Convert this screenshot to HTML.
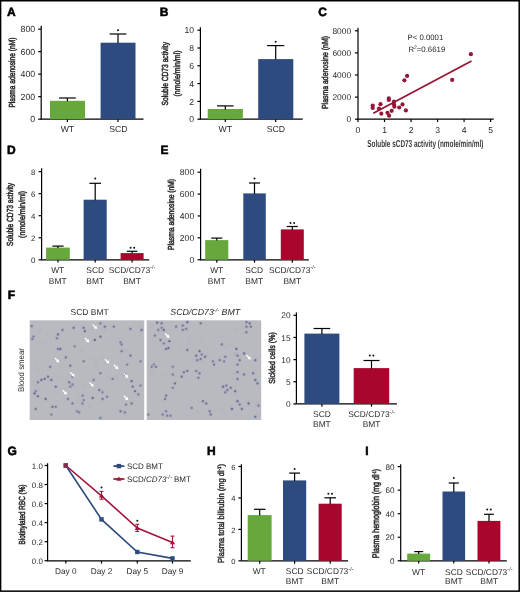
<!DOCTYPE html><html><head><meta charset="utf-8"><style>html,body{margin:0;padding:0;background:#fff;}#wrap{position:relative;width:520px;height:592px;overflow:hidden;}svg{display:block;will-change:transform;}svg.main{filter:blur(0.3px);}svg.ov{position:absolute;left:0;top:0;}</style></head><body><div id="wrap"><svg class="main" width="520" height="592" viewBox="0 0 520 592" font-family="Liberation Sans, sans-serif" text-rendering="geometricPrecision">
<rect x="0" y="0" width="520" height="592" fill="#fff"/>
<defs><filter id="sblur" x="-5%" y="-5%" width="110%" height="110%"><feGaussianBlur stdDeviation="0.6"/></filter><clipPath id="clip29"><rect x="29.7" y="320.3" width="114.5" height="99.7"/></clipPath><clipPath id="clip146"><rect x="146.7" y="320.3" width="114.5" height="99.7"/></clipPath></defs>
<text x="7" y="15.5" font-size="12" font-weight="bold" fill="#000" stroke="#000" stroke-width="0.55">A</text>
<line x1="41.2" y1="25.8" x2="41.2" y2="119.2" stroke="#000" stroke-width="1.2"/>
<line x1="38.2" y1="29.1" x2="41.2" y2="29.1" stroke="#000" stroke-width="1.2"/>
<text x="35.2" y="32.2" font-size="8.8" text-anchor="end" font-weight="normal" fill="#2a2a2a" >800</text>
<line x1="38.2" y1="51.62" x2="41.2" y2="51.62" stroke="#000" stroke-width="1.2"/>
<text x="35.2" y="54.73" font-size="8.8" text-anchor="end" font-weight="normal" fill="#2a2a2a" >600</text>
<line x1="38.2" y1="74.15" x2="41.2" y2="74.15" stroke="#000" stroke-width="1.2"/>
<text x="35.2" y="77.25" font-size="8.8" text-anchor="end" font-weight="normal" fill="#2a2a2a" >400</text>
<line x1="38.2" y1="96.67" x2="41.2" y2="96.67" stroke="#000" stroke-width="1.2"/>
<text x="35.2" y="99.77" font-size="8.8" text-anchor="end" font-weight="normal" fill="#2a2a2a" >200</text>
<line x1="38.2" y1="119.2" x2="41.2" y2="119.2" stroke="#000" stroke-width="1.2"/>
<text x="35.2" y="122.3" font-size="8.8" text-anchor="end" font-weight="normal" fill="#2a2a2a" >0</text>
<line x1="40.6" y1="119.2" x2="143.5" y2="119.2" stroke="#000" stroke-width="1.2"/>
<line x1="67.4" y1="119.2" x2="67.4" y2="122" stroke="#000" stroke-width="1.2"/>
<line x1="118" y1="119.2" x2="118" y2="122" stroke="#000" stroke-width="1.2"/>
<rect x="50" y="100.8" width="35" height="18.4" fill="#66a83c"/>
<line x1="67.4" y1="98" x2="67.4" y2="101.3" stroke="#000" stroke-width="1.2"/>
<line x1="59" y1="98" x2="75.8" y2="98" stroke="#000" stroke-width="1.2"/>
<rect x="100.6" y="42.7" width="34.9" height="76.5" fill="#2e4b80"/>
<line x1="118" y1="34" x2="118" y2="43.2" stroke="#000" stroke-width="1.2"/>
<line x1="109.6" y1="34" x2="126.4" y2="34" stroke="#000" stroke-width="1.2"/>
<circle cx="118" cy="30.3" r="1.0" fill="#111"/>
<text x="67.4" y="132.2" font-size="8.7" text-anchor="middle" font-weight="normal" fill="#2a2a2a" >WT</text>
<text x="118.4" y="132.2" font-size="8.7" text-anchor="middle" font-weight="normal" fill="#2a2a2a" >SCD</text>
<text transform="translate(15.2,72.6) rotate(-90) scale(0.7532,1)" font-size="8.8" text-anchor="middle" fill="#2a2a2a" stroke="#2a2a2a" stroke-width="0.505">Plasma adenosine (nM)</text>
<text x="159.7" y="15.5" font-size="12" font-weight="bold" fill="#000" stroke="#000" stroke-width="0.55">B</text>
<line x1="200.4" y1="27.3" x2="200.4" y2="119.2" stroke="#000" stroke-width="1.2"/>
<line x1="197.4" y1="30.2" x2="200.4" y2="30.2" stroke="#000" stroke-width="1.2"/>
<text x="194" y="33.3" font-size="8.6" text-anchor="end" font-weight="normal" fill="#2a2a2a" >10</text>
<line x1="197.4" y1="48" x2="200.4" y2="48" stroke="#000" stroke-width="1.2"/>
<text x="194" y="51.1" font-size="8.6" text-anchor="end" font-weight="normal" fill="#2a2a2a" >8</text>
<line x1="197.4" y1="65.8" x2="200.4" y2="65.8" stroke="#000" stroke-width="1.2"/>
<text x="194" y="68.9" font-size="8.6" text-anchor="end" font-weight="normal" fill="#2a2a2a" >6</text>
<line x1="197.4" y1="83.6" x2="200.4" y2="83.6" stroke="#000" stroke-width="1.2"/>
<text x="194" y="86.7" font-size="8.6" text-anchor="end" font-weight="normal" fill="#2a2a2a" >4</text>
<line x1="197.4" y1="101.4" x2="200.4" y2="101.4" stroke="#000" stroke-width="1.2"/>
<text x="194" y="104.5" font-size="8.6" text-anchor="end" font-weight="normal" fill="#2a2a2a" >2</text>
<line x1="197.4" y1="119.2" x2="200.4" y2="119.2" stroke="#000" stroke-width="1.2"/>
<text x="194" y="122.3" font-size="8.6" text-anchor="end" font-weight="normal" fill="#2a2a2a" >0</text>
<line x1="199.8" y1="119.2" x2="302.7" y2="119.2" stroke="#000" stroke-width="1.2"/>
<line x1="225.3" y1="119.2" x2="225.3" y2="122" stroke="#000" stroke-width="1.2"/>
<line x1="275.7" y1="119.2" x2="275.7" y2="122" stroke="#000" stroke-width="1.2"/>
<rect x="207.7" y="109" width="35.2" height="10.2" fill="#66a83c"/>
<line x1="225.3" y1="105.9" x2="225.3" y2="109.5" stroke="#000" stroke-width="1.2"/>
<line x1="217" y1="105.9" x2="233.6" y2="105.9" stroke="#000" stroke-width="1.2"/>
<rect x="258.2" y="59.1" width="35.1" height="60.1" fill="#2e4b80"/>
<line x1="275.7" y1="45.6" x2="275.7" y2="59.6" stroke="#000" stroke-width="1.2"/>
<line x1="267.1" y1="45.6" x2="284.3" y2="45.6" stroke="#000" stroke-width="1.2"/>
<circle cx="275.7" cy="41.7" r="1.0" fill="#111"/>
<text x="225.3" y="132.2" font-size="8.7" text-anchor="middle" font-weight="normal" fill="#2a2a2a" >WT</text>
<text x="275.9" y="132.2" font-size="8.7" text-anchor="middle" font-weight="normal" fill="#2a2a2a" >SCD</text>
<text transform="translate(168.4,73.7) rotate(-90) scale(0.7592,1)" font-size="8.8" text-anchor="middle" fill="#2a2a2a" stroke="#2a2a2a" stroke-width="0.501">Soluble CD73 activity</text>
<text transform="translate(179.9,73.5) rotate(-90) scale(0.7906,1)" font-size="8.8" text-anchor="middle" fill="#2a2a2a" stroke="#2a2a2a" stroke-width="0.481">(nmole/min/ml)</text>
<text x="318.2" y="15.5" font-size="12" font-weight="bold" fill="#000" stroke="#000" stroke-width="0.55">C</text>
<line x1="358" y1="27.7" x2="358" y2="119.2" stroke="#000" stroke-width="1.2"/>
<line x1="355" y1="30.8" x2="358" y2="30.8" stroke="#000" stroke-width="1.2"/>
<text x="351.1" y="33.9" font-size="8.4" text-anchor="end" font-weight="normal" fill="#2a2a2a" >8000</text>
<line x1="355" y1="52.9" x2="358" y2="52.9" stroke="#000" stroke-width="1.2"/>
<text x="351.1" y="56" font-size="8.4" text-anchor="end" font-weight="normal" fill="#2a2a2a" >6000</text>
<line x1="355" y1="75" x2="358" y2="75" stroke="#000" stroke-width="1.2"/>
<text x="351.1" y="78.1" font-size="8.4" text-anchor="end" font-weight="normal" fill="#2a2a2a" >4000</text>
<line x1="355" y1="97.1" x2="358" y2="97.1" stroke="#000" stroke-width="1.2"/>
<text x="351.1" y="100.2" font-size="8.4" text-anchor="end" font-weight="normal" fill="#2a2a2a" >2000</text>
<line x1="355" y1="119.2" x2="358" y2="119.2" stroke="#000" stroke-width="1.2"/>
<text x="351.1" y="122.3" font-size="8.4" text-anchor="end" font-weight="normal" fill="#2a2a2a" >0</text>
<line x1="357.4" y1="119.2" x2="493.7" y2="119.2" stroke="#000" stroke-width="1.2"/>
<line x1="358" y1="119.2" x2="358" y2="122" stroke="#000" stroke-width="1.2"/>
<line x1="384.52" y1="119.2" x2="384.52" y2="122" stroke="#000" stroke-width="1.2"/>
<line x1="411.04" y1="119.2" x2="411.04" y2="122" stroke="#000" stroke-width="1.2"/>
<line x1="437.56" y1="119.2" x2="437.56" y2="122" stroke="#000" stroke-width="1.2"/>
<line x1="464.08" y1="119.2" x2="464.08" y2="122" stroke="#000" stroke-width="1.2"/>
<line x1="490.6" y1="119.2" x2="490.6" y2="122" stroke="#000" stroke-width="1.2"/>
<text x="358" y="132.7" font-size="8.6" text-anchor="middle" font-weight="normal" fill="#2a2a2a" >0</text>
<text x="384.52" y="132.7" font-size="8.6" text-anchor="middle" font-weight="normal" fill="#2a2a2a" >1</text>
<text x="411.04" y="132.7" font-size="8.6" text-anchor="middle" font-weight="normal" fill="#2a2a2a" >2</text>
<text x="437.56" y="132.7" font-size="8.6" text-anchor="middle" font-weight="normal" fill="#2a2a2a" >3</text>
<text x="464.08" y="132.7" font-size="8.6" text-anchor="middle" font-weight="normal" fill="#2a2a2a" >4</text>
<text x="490.6" y="132.7" font-size="8.6" text-anchor="middle" font-weight="normal" fill="#2a2a2a" >5</text>
<text x="425.3" y="146.6" font-size="10" text-anchor="middle" font-weight="bold" fill="#3a3a3a" textLength="116" lengthAdjust="spacingAndGlyphs" >Soluble sCD73 activity (nmole/min/ml)</text>
<text transform="translate(327.6,72.5) rotate(-90) scale(0.7855,1)" font-size="8.8" text-anchor="middle" fill="#2a2a2a" stroke="#2a2a2a" stroke-width="0.484">Plasma adenosine (nM)</text>
<text x="407.5" y="39.6" font-size="7.8" text-anchor="start" font-weight="normal" fill="#2a2a2a" >P&lt; 0.0001</text>
<text x="408.4" y="51.5" font-size="7.8" text-anchor="start" font-weight="normal" fill="#2a2a2a" >R<tspan font-size="5" dy="-3">2</tspan><tspan dy="3">=0.6619</tspan></text>
<line x1="373.3" y1="113.3" x2="471.5" y2="61" stroke="#951636" stroke-width="1.8"/>
<circle cx="407.1" cy="75.9" r="2.1" fill="#951636"/>
<circle cx="404.4" cy="80.3" r="2.1" fill="#951636"/>
<circle cx="388.8" cy="98.4" r="2.1" fill="#951636"/>
<circle cx="388.8" cy="99.9" r="2.1" fill="#951636"/>
<circle cx="372.7" cy="105.6" r="2.1" fill="#951636"/>
<circle cx="372.7" cy="107.9" r="2.1" fill="#951636"/>
<circle cx="380.5" cy="104.2" r="2.1" fill="#951636"/>
<circle cx="379" cy="108.5" r="2.1" fill="#951636"/>
<circle cx="381.3" cy="113.7" r="2.1" fill="#951636"/>
<circle cx="387.5" cy="112.8" r="2.1" fill="#951636"/>
<circle cx="389.1" cy="115.7" r="2.1" fill="#951636"/>
<circle cx="391.7" cy="110.8" r="2.1" fill="#951636"/>
<circle cx="394" cy="101.5" r="2.1" fill="#951636"/>
<circle cx="394" cy="104.4" r="2.1" fill="#951636"/>
<circle cx="394.4" cy="106.7" r="2.1" fill="#951636"/>
<circle cx="399.2" cy="107.5" r="2.1" fill="#951636"/>
<circle cx="402.5" cy="104.4" r="2.1" fill="#951636"/>
<circle cx="405.9" cy="110.4" r="2.1" fill="#951636"/>
<circle cx="470.9" cy="54.2" r="2.1" fill="#951636"/>
<circle cx="452.2" cy="79.9" r="2.1" fill="#951636"/>
<text x="6.9" y="154.1" font-size="12" font-weight="bold" fill="#000" stroke="#000" stroke-width="0.55">D</text>
<line x1="41.6" y1="168.3" x2="41.6" y2="259.8" stroke="#000" stroke-width="1.2"/>
<line x1="38.6" y1="171.6" x2="41.6" y2="171.6" stroke="#000" stroke-width="1.2"/>
<text x="35.4" y="174.7" font-size="7.8" text-anchor="end" font-weight="normal" fill="#2a2a2a" >8</text>
<line x1="38.6" y1="193.65" x2="41.6" y2="193.65" stroke="#000" stroke-width="1.2"/>
<text x="35.4" y="196.75" font-size="7.8" text-anchor="end" font-weight="normal" fill="#2a2a2a" >6</text>
<line x1="38.6" y1="215.7" x2="41.6" y2="215.7" stroke="#000" stroke-width="1.2"/>
<text x="35.4" y="218.8" font-size="7.8" text-anchor="end" font-weight="normal" fill="#2a2a2a" >4</text>
<line x1="38.6" y1="237.75" x2="41.6" y2="237.75" stroke="#000" stroke-width="1.2"/>
<text x="35.4" y="240.85" font-size="7.8" text-anchor="end" font-weight="normal" fill="#2a2a2a" >2</text>
<line x1="38.6" y1="259.8" x2="41.6" y2="259.8" stroke="#000" stroke-width="1.2"/>
<text x="35.4" y="262.9" font-size="7.8" text-anchor="end" font-weight="normal" fill="#2a2a2a" >0</text>
<line x1="41.2" y1="259.8" x2="149.2" y2="259.8" stroke="#000" stroke-width="1.2"/>
<line x1="58" y1="259.8" x2="58" y2="262.6" stroke="#000" stroke-width="1.2"/>
<line x1="95.2" y1="259.8" x2="95.2" y2="262.6" stroke="#000" stroke-width="1.2"/>
<line x1="132.1" y1="259.8" x2="132.1" y2="262.6" stroke="#000" stroke-width="1.2"/>
<rect x="46.1" y="247.6" width="23.7" height="12.1" fill="#66a83c"/>
<line x1="58" y1="246.1" x2="58" y2="248.1" stroke="#000" stroke-width="1.2"/>
<line x1="52.4" y1="246.1" x2="63.6" y2="246.1" stroke="#000" stroke-width="1.2"/>
<rect x="83.6" y="199.7" width="23.1" height="60" fill="#2e4b80"/>
<line x1="95.2" y1="183.3" x2="95.2" y2="200.2" stroke="#000" stroke-width="1.2"/>
<line x1="89.4" y1="183.3" x2="101" y2="183.3" stroke="#000" stroke-width="1.2"/>
<circle cx="95.2" cy="178.6" r="1.0" fill="#111"/>
<rect x="120.6" y="253.1" width="23" height="6.6" fill="#a8062c"/>
<line x1="132.1" y1="251.3" x2="132.1" y2="253.6" stroke="#000" stroke-width="1.2"/>
<line x1="126.8" y1="251.3" x2="137.4" y2="251.3" stroke="#000" stroke-width="1.2"/>
<circle cx="130.6" cy="247.7" r="1.0" fill="#111"/>
<circle cx="134.2" cy="247.7" r="1.0" fill="#111"/>
<text x="57.7" y="272.7" font-size="8.4" text-anchor="middle" font-weight="normal" fill="#2a2a2a" >WT</text>
<text x="57.7" y="284.3" font-size="8.4" text-anchor="middle" font-weight="normal" fill="#2a2a2a" >BMT</text>
<text x="95.2" y="272.7" font-size="8.4" text-anchor="middle" font-weight="normal" fill="#2a2a2a" >SCD</text>
<text x="95.2" y="284.3" font-size="8.4" text-anchor="middle" font-weight="normal" fill="#2a2a2a" >BMT</text>
<text x="132" y="272.7" font-size="8.4" text-anchor="middle" font-weight="normal" fill="#2a2a2a" >SCD/CD73<tspan font-size="5.6" dy="-3.3">-/-</tspan></text>
<text x="132" y="284.3" font-size="8.4" text-anchor="middle" font-weight="normal" fill="#2a2a2a" >BMT</text>
<text transform="translate(13.4,214.4) rotate(-90) scale(0.7532,1)" font-size="8.8" text-anchor="middle" fill="#2a2a2a" stroke="#2a2a2a" stroke-width="0.504">Soluble CD73 activity</text>
<text transform="translate(25,214.4) rotate(-90) scale(0.8077,1)" font-size="8.8" text-anchor="middle" fill="#2a2a2a" stroke="#2a2a2a" stroke-width="0.470">(nmole/min/ml)</text>
<text x="160.6" y="154.1" font-size="12" font-weight="bold" fill="#000" stroke="#000" stroke-width="0.55">E</text>
<line x1="200.6" y1="168.8" x2="200.6" y2="259.7" stroke="#000" stroke-width="1.2"/>
<line x1="197.6" y1="172.2" x2="200.6" y2="172.2" stroke="#000" stroke-width="1.2"/>
<text x="194.2" y="175.3" font-size="8.6" text-anchor="end" font-weight="normal" fill="#2a2a2a" >800</text>
<line x1="197.6" y1="194.07" x2="200.6" y2="194.07" stroke="#000" stroke-width="1.2"/>
<text x="194.2" y="197.17" font-size="8.6" text-anchor="end" font-weight="normal" fill="#2a2a2a" >600</text>
<line x1="197.6" y1="215.95" x2="200.6" y2="215.95" stroke="#000" stroke-width="1.2"/>
<text x="194.2" y="219.05" font-size="8.6" text-anchor="end" font-weight="normal" fill="#2a2a2a" >400</text>
<line x1="197.6" y1="237.82" x2="200.6" y2="237.82" stroke="#000" stroke-width="1.2"/>
<text x="194.2" y="240.92" font-size="8.6" text-anchor="end" font-weight="normal" fill="#2a2a2a" >200</text>
<line x1="197.6" y1="259.7" x2="200.6" y2="259.7" stroke="#000" stroke-width="1.2"/>
<text x="194.2" y="262.8" font-size="8.6" text-anchor="end" font-weight="normal" fill="#2a2a2a" >0</text>
<line x1="200" y1="259.9" x2="308.8" y2="259.9" stroke="#000" stroke-width="1.2"/>
<line x1="216.8" y1="259.9" x2="216.8" y2="262.7" stroke="#000" stroke-width="1.2"/>
<line x1="254.5" y1="259.9" x2="254.5" y2="262.7" stroke="#000" stroke-width="1.2"/>
<line x1="292.3" y1="259.9" x2="292.3" y2="262.7" stroke="#000" stroke-width="1.2"/>
<rect x="205.2" y="240.1" width="23.1" height="19.6" fill="#66a83c"/>
<line x1="216.8" y1="238.1" x2="216.8" y2="240.6" stroke="#000" stroke-width="1.2"/>
<line x1="211.3" y1="238.1" x2="222.3" y2="238.1" stroke="#000" stroke-width="1.2"/>
<rect x="243.3" y="193.4" width="22.5" height="66.3" fill="#2e4b80"/>
<line x1="254.5" y1="183" x2="254.5" y2="193.9" stroke="#000" stroke-width="1.2"/>
<line x1="249" y1="183" x2="260" y2="183" stroke="#000" stroke-width="1.2"/>
<circle cx="254.5" cy="178.6" r="1.0" fill="#111"/>
<rect x="280.8" y="229.4" width="23" height="30.3" fill="#a8062c"/>
<line x1="292.3" y1="226.5" x2="292.3" y2="229.9" stroke="#000" stroke-width="1.2"/>
<line x1="286.8" y1="226.5" x2="297.8" y2="226.5" stroke="#000" stroke-width="1.2"/>
<circle cx="290.5" cy="223.1" r="1.0" fill="#111"/>
<circle cx="294.1" cy="223.1" r="1.0" fill="#111"/>
<text x="216.7" y="272.7" font-size="8.4" text-anchor="middle" font-weight="normal" fill="#2a2a2a" >WT</text>
<text x="216.7" y="284.3" font-size="8.4" text-anchor="middle" font-weight="normal" fill="#2a2a2a" >BMT</text>
<text x="254.2" y="272.7" font-size="8.4" text-anchor="middle" font-weight="normal" fill="#2a2a2a" >SCD</text>
<text x="254.2" y="284.3" font-size="8.4" text-anchor="middle" font-weight="normal" fill="#2a2a2a" >BMT</text>
<text x="292.3" y="272.7" font-size="8.4" text-anchor="middle" font-weight="normal" fill="#2a2a2a" >SCD/CD73<tspan font-size="5.6" dy="-3.3">-/-</tspan></text>
<text x="292.3" y="284.3" font-size="8.4" text-anchor="middle" font-weight="normal" fill="#2a2a2a" >BMT</text>
<text transform="translate(173.6,214.4) rotate(-90) scale(0.7640,1)" font-size="8.8" text-anchor="middle" fill="#2a2a2a" stroke="#2a2a2a" stroke-width="0.497">Plasma adenosine (nM)</text>
<text x="7.8" y="298.5" font-size="12" font-weight="bold" fill="#000" stroke="#000" stroke-width="0.55">F</text>
<text x="89.6" y="315.1" font-size="8.5" text-anchor="middle" font-weight="normal" fill="#2a2a2a" >SCD BMT</text>
<text x="205.2" y="315.3" font-size="8.8" text-anchor="middle" font-weight="normal" fill="#2a2a2a"  font-style="italic">SCD/CD73<tspan font-size="5.6" dy="-3.3">-/-</tspan><tspan dy="3.3"> BMT</tspan></text>
<rect x="29.7" y="320.3" width="114.5" height="99.7" fill="#b9bac0"/>
<g clip-path="url(#clip29)"><g filter="url(#sblur)">
<circle cx="67.48" cy="336.74" r="1.6" fill="none" stroke="#a0a2b8" stroke-width="0.8" stroke-opacity="0.25"/>
<circle cx="103.63" cy="329.23" r="1.6" fill="none" stroke="#a0a2b8" stroke-width="0.8" stroke-opacity="0.25"/>
<circle cx="90.91" cy="357.3" r="1.6" fill="none" stroke="#a0a2b8" stroke-width="0.8" stroke-opacity="0.25"/>
<circle cx="38.11" cy="370.86" r="1.6" fill="none" stroke="#a0a2b8" stroke-width="0.8" stroke-opacity="0.25"/>
<circle cx="35.84" cy="363.8" r="1.6" fill="none" stroke="#a0a2b8" stroke-width="0.8" stroke-opacity="0.25"/>
<circle cx="39.42" cy="330.98" r="1.6" fill="none" stroke="#a0a2b8" stroke-width="0.8" stroke-opacity="0.25"/>
<circle cx="78.61" cy="401.43" r="1.6" fill="none" stroke="#a0a2b8" stroke-width="0.8" stroke-opacity="0.25"/>
<circle cx="45.38" cy="343.66" r="1.6" fill="none" stroke="#a0a2b8" stroke-width="0.8" stroke-opacity="0.25"/>
<circle cx="101.03" cy="413" r="1.6" fill="none" stroke="#a0a2b8" stroke-width="0.8" stroke-opacity="0.25"/>
<circle cx="95.47" cy="360.26" r="1.6" fill="none" stroke="#a0a2b8" stroke-width="0.8" stroke-opacity="0.25"/>
<circle cx="139.58" cy="326.76" r="1.6" fill="none" stroke="#a0a2b8" stroke-width="0.8" stroke-opacity="0.25"/>
<circle cx="126.56" cy="350.02" r="1.6" fill="none" stroke="#a0a2b8" stroke-width="0.8" stroke-opacity="0.25"/>
<circle cx="47.64" cy="333.57" r="1.6" fill="none" stroke="#a0a2b8" stroke-width="0.8" stroke-opacity="0.25"/>
<circle cx="65.79" cy="400.4" r="1.6" fill="none" stroke="#a0a2b8" stroke-width="0.8" stroke-opacity="0.25"/>
<circle cx="51.67" cy="377.96" r="1.6" fill="none" stroke="#a0a2b8" stroke-width="0.8" stroke-opacity="0.25"/>
<circle cx="102.3" cy="357.94" r="1.6" fill="none" stroke="#a0a2b8" stroke-width="0.8" stroke-opacity="0.25"/>
<circle cx="92.23" cy="328.31" r="1.6" fill="none" stroke="#a0a2b8" stroke-width="0.8" stroke-opacity="0.25"/>
<circle cx="38.29" cy="342.01" r="1.6" fill="none" stroke="#a0a2b8" stroke-width="0.8" stroke-opacity="0.25"/>
<circle cx="106.88" cy="363.22" r="1.6" fill="none" stroke="#a0a2b8" stroke-width="0.8" stroke-opacity="0.25"/>
<circle cx="66.41" cy="378.34" r="1.6" fill="none" stroke="#a0a2b8" stroke-width="0.8" stroke-opacity="0.25"/>
<circle cx="81.78" cy="350.99" r="1.6" fill="none" stroke="#a0a2b8" stroke-width="0.8" stroke-opacity="0.25"/>
<circle cx="119.48" cy="389.19" r="1.6" fill="none" stroke="#a0a2b8" stroke-width="0.8" stroke-opacity="0.25"/>
<circle cx="58.67" cy="377.27" r="1.6" fill="none" stroke="#a0a2b8" stroke-width="0.8" stroke-opacity="0.25"/>
<circle cx="89.73" cy="406.05" r="1.6" fill="none" stroke="#a0a2b8" stroke-width="0.8" stroke-opacity="0.25"/>
<circle cx="112.3" cy="349.86" r="1.6" fill="none" stroke="#a0a2b8" stroke-width="0.8" stroke-opacity="0.25"/>
<circle cx="140.01" cy="333.6" r="1.6" fill="none" stroke="#a0a2b8" stroke-width="0.8" stroke-opacity="0.25"/>
<circle cx="77.9" cy="394.76" r="1.6" fill="none" stroke="#a0a2b8" stroke-width="0.8" stroke-opacity="0.25"/>
<circle cx="48.49" cy="369.09" r="1.6" fill="none" stroke="#a0a2b8" stroke-width="0.8" stroke-opacity="0.25"/>
<circle cx="36.03" cy="386.25" r="1.6" fill="none" stroke="#a0a2b8" stroke-width="0.8" stroke-opacity="0.25"/>
<circle cx="116.19" cy="377.14" r="1.6" fill="none" stroke="#a0a2b8" stroke-width="0.8" stroke-opacity="0.25"/>
<circle cx="128.44" cy="352.33" r="1.6" fill="none" stroke="#a0a2b8" stroke-width="0.8" stroke-opacity="0.25"/>
<circle cx="108.53" cy="379.18" r="1.6" fill="none" stroke="#a0a2b8" stroke-width="0.8" stroke-opacity="0.25"/>
<circle cx="95.78" cy="365.96" r="1.6" fill="none" stroke="#a0a2b8" stroke-width="0.8" stroke-opacity="0.25"/>
<circle cx="124.52" cy="412.71" r="1.6" fill="none" stroke="#a0a2b8" stroke-width="0.8" stroke-opacity="0.25"/>
<circle cx="84.09" cy="385.86" r="1.6" fill="none" stroke="#a0a2b8" stroke-width="0.8" stroke-opacity="0.25"/>
<circle cx="38.4" cy="389.43" r="1.6" fill="none" stroke="#a0a2b8" stroke-width="0.8" stroke-opacity="0.25"/>
<circle cx="103.21" cy="417.34" r="1.6" fill="none" stroke="#a0a2b8" stroke-width="0.8" stroke-opacity="0.25"/>
<circle cx="122.52" cy="349.54" r="1.6" fill="none" stroke="#a0a2b8" stroke-width="0.8" stroke-opacity="0.25"/>
<circle cx="74.33" cy="386.29" r="1.6" fill="none" stroke="#a0a2b8" stroke-width="0.8" stroke-opacity="0.25"/>
<circle cx="34.19" cy="366.48" r="1.6" fill="none" stroke="#a0a2b8" stroke-width="0.8" stroke-opacity="0.25"/>
<circle cx="31.7" cy="326.2" r="2.0" fill="#a6a8c0" fill-opacity="0.6"/>
<circle cx="31.7" cy="326.2" r="1.15" fill="#626588" fill-opacity="0.65"/>
<circle cx="33.5" cy="336.7" r="2.0" fill="#a6a8c0" fill-opacity="0.6"/>
<circle cx="33.5" cy="336.7" r="1.15" fill="#626588" fill-opacity="0.64"/>
<circle cx="32.3" cy="339" r="2.0" fill="#a6a8c0" fill-opacity="0.6"/>
<circle cx="32.3" cy="339" r="1.15" fill="#626588" fill-opacity="0.62"/>
<circle cx="58" cy="334.5" r="2.0" fill="#a6a8c0" fill-opacity="0.6"/>
<circle cx="58" cy="334.5" r="1.15" fill="#626588" fill-opacity="0.83"/>
<circle cx="56.9" cy="338.3" r="2.0" fill="#a6a8c0" fill-opacity="0.6"/>
<circle cx="56.9" cy="338.3" r="1.15" fill="#626588" fill-opacity="0.64"/>
<circle cx="62.5" cy="330" r="2.0" fill="#a6a8c0" fill-opacity="0.6"/>
<circle cx="62.5" cy="330" r="1.15" fill="#626588" fill-opacity="0.67"/>
<circle cx="58" cy="349" r="2.0" fill="#a6a8c0" fill-opacity="0.6"/>
<circle cx="58" cy="349" r="1.15" fill="#626588" fill-opacity="0.72"/>
<circle cx="60.2" cy="349" r="2.0" fill="#a6a8c0" fill-opacity="0.6"/>
<circle cx="60.2" cy="349" r="1.15" fill="#626588" fill-opacity="0.86"/>
<circle cx="74.7" cy="346.3" r="2.0" fill="#a6a8c0" fill-opacity="0.6"/>
<circle cx="74.7" cy="346.3" r="1.15" fill="#626588" fill-opacity="0.62"/>
<circle cx="65.8" cy="357.5" r="2.0" fill="#a6a8c0" fill-opacity="0.6"/>
<circle cx="65.8" cy="357.5" r="1.15" fill="#626588" fill-opacity="0.73"/>
<circle cx="83.7" cy="361.3" r="2.0" fill="#a6a8c0" fill-opacity="0.6"/>
<circle cx="83.7" cy="361.3" r="1.15" fill="#626588" fill-opacity="0.76"/>
<circle cx="73.6" cy="327.8" r="2.0" fill="#a6a8c0" fill-opacity="0.6"/>
<circle cx="73.6" cy="327.8" r="1.15" fill="#626588" fill-opacity="0.87"/>
<circle cx="83.7" cy="327.8" r="2.0" fill="#a6a8c0" fill-opacity="0.6"/>
<circle cx="83.7" cy="327.8" r="1.15" fill="#626588" fill-opacity="0.85"/>
<circle cx="84.8" cy="331.2" r="2.0" fill="#a6a8c0" fill-opacity="0.6"/>
<circle cx="84.8" cy="331.2" r="1.15" fill="#626588" fill-opacity="0.86"/>
<circle cx="100.4" cy="323.3" r="2.0" fill="#a6a8c0" fill-opacity="0.6"/>
<circle cx="100.4" cy="323.3" r="1.15" fill="#626588" fill-opacity="0.68"/>
<circle cx="104.8" cy="326.7" r="2.0" fill="#a6a8c0" fill-opacity="0.6"/>
<circle cx="104.8" cy="326.7" r="1.15" fill="#626588" fill-opacity="0.72"/>
<circle cx="113.8" cy="326.7" r="2.0" fill="#a6a8c0" fill-opacity="0.6"/>
<circle cx="113.8" cy="326.7" r="1.15" fill="#626588" fill-opacity="0.71"/>
<circle cx="100.4" cy="336.7" r="2.0" fill="#a6a8c0" fill-opacity="0.6"/>
<circle cx="100.4" cy="336.7" r="1.15" fill="#626588" fill-opacity="0.87"/>
<circle cx="94.8" cy="340" r="2.0" fill="#a6a8c0" fill-opacity="0.6"/>
<circle cx="94.8" cy="340" r="1.15" fill="#626588" fill-opacity="0.89"/>
<circle cx="120.5" cy="342.3" r="2.0" fill="#a6a8c0" fill-opacity="0.6"/>
<circle cx="120.5" cy="342.3" r="1.15" fill="#626588" fill-opacity="0.65"/>
<circle cx="121.6" cy="344.5" r="2.0" fill="#a6a8c0" fill-opacity="0.6"/>
<circle cx="121.6" cy="344.5" r="1.15" fill="#626588" fill-opacity="0.65"/>
<circle cx="121.6" cy="351.2" r="2.0" fill="#a6a8c0" fill-opacity="0.6"/>
<circle cx="121.6" cy="351.2" r="1.15" fill="#626588" fill-opacity="0.67"/>
<circle cx="130.5" cy="328.9" r="2.0" fill="#a6a8c0" fill-opacity="0.6"/>
<circle cx="130.5" cy="328.9" r="1.15" fill="#626588" fill-opacity="0.67"/>
<circle cx="141.6" cy="330" r="2.0" fill="#a6a8c0" fill-opacity="0.6"/>
<circle cx="141.6" cy="330" r="1.15" fill="#626588" fill-opacity="0.75"/>
<circle cx="130.5" cy="355.7" r="2.0" fill="#a6a8c0" fill-opacity="0.6"/>
<circle cx="130.5" cy="355.7" r="1.15" fill="#626588" fill-opacity="0.78"/>
<circle cx="140.5" cy="361.3" r="2.0" fill="#a6a8c0" fill-opacity="0.6"/>
<circle cx="140.5" cy="361.3" r="1.15" fill="#626588" fill-opacity="0.68"/>
<circle cx="127.1" cy="364.6" r="2.0" fill="#a6a8c0" fill-opacity="0.6"/>
<circle cx="127.1" cy="364.6" r="1.15" fill="#626588" fill-opacity="0.6"/>
<circle cx="70.3" cy="365.7" r="2.0" fill="#a6a8c0" fill-opacity="0.6"/>
<circle cx="70.3" cy="365.7" r="1.15" fill="#626588" fill-opacity="0.73"/>
<circle cx="50.2" cy="366.8" r="2.0" fill="#a6a8c0" fill-opacity="0.6"/>
<circle cx="50.2" cy="366.8" r="1.15" fill="#626588" fill-opacity="0.71"/>
<circle cx="48" cy="376.7" r="2.0" fill="#a6a8c0" fill-opacity="0.6"/>
<circle cx="48" cy="376.7" r="1.15" fill="#626588" fill-opacity="0.77"/>
<circle cx="44.6" cy="378.9" r="2.0" fill="#a6a8c0" fill-opacity="0.6"/>
<circle cx="44.6" cy="378.9" r="1.15" fill="#626588" fill-opacity="0.89"/>
<circle cx="41.3" cy="380" r="2.0" fill="#a6a8c0" fill-opacity="0.6"/>
<circle cx="41.3" cy="380" r="1.15" fill="#626588" fill-opacity="0.81"/>
<circle cx="37.9" cy="382.3" r="2.0" fill="#a6a8c0" fill-opacity="0.6"/>
<circle cx="37.9" cy="382.3" r="1.15" fill="#626588" fill-opacity="0.75"/>
<circle cx="51.3" cy="380" r="2.0" fill="#a6a8c0" fill-opacity="0.6"/>
<circle cx="51.3" cy="380" r="1.15" fill="#626588" fill-opacity="0.79"/>
<circle cx="55.8" cy="386.7" r="2.0" fill="#a6a8c0" fill-opacity="0.6"/>
<circle cx="55.8" cy="386.7" r="1.15" fill="#626588" fill-opacity="0.8"/>
<circle cx="35.7" cy="391.2" r="2.0" fill="#a6a8c0" fill-opacity="0.6"/>
<circle cx="35.7" cy="391.2" r="1.15" fill="#626588" fill-opacity="0.62"/>
<circle cx="34.6" cy="393.4" r="2.0" fill="#a6a8c0" fill-opacity="0.6"/>
<circle cx="34.6" cy="393.4" r="1.15" fill="#626588" fill-opacity="0.87"/>
<circle cx="37.9" cy="396.3" r="2.0" fill="#a6a8c0" fill-opacity="0.6"/>
<circle cx="37.9" cy="396.3" r="1.15" fill="#626588" fill-opacity="0.83"/>
<circle cx="45.7" cy="399" r="2.0" fill="#a6a8c0" fill-opacity="0.6"/>
<circle cx="45.7" cy="399" r="1.15" fill="#626588" fill-opacity="0.86"/>
<circle cx="52.4" cy="406.8" r="2.0" fill="#a6a8c0" fill-opacity="0.6"/>
<circle cx="52.4" cy="406.8" r="1.15" fill="#626588" fill-opacity="0.84"/>
<circle cx="55.8" cy="406.8" r="2.0" fill="#a6a8c0" fill-opacity="0.6"/>
<circle cx="55.8" cy="406.8" r="1.15" fill="#626588" fill-opacity="0.72"/>
<circle cx="35.7" cy="409" r="2.0" fill="#a6a8c0" fill-opacity="0.6"/>
<circle cx="35.7" cy="409" r="1.15" fill="#626588" fill-opacity="0.72"/>
<circle cx="51.3" cy="414.6" r="2.0" fill="#a6a8c0" fill-opacity="0.6"/>
<circle cx="51.3" cy="414.6" r="1.15" fill="#626588" fill-opacity="0.63"/>
<circle cx="69.2" cy="382.3" r="2.0" fill="#a6a8c0" fill-opacity="0.6"/>
<circle cx="69.2" cy="382.3" r="1.15" fill="#626588" fill-opacity="0.79"/>
<circle cx="72.5" cy="384.5" r="2.0" fill="#a6a8c0" fill-opacity="0.6"/>
<circle cx="72.5" cy="384.5" r="1.15" fill="#626588" fill-opacity="0.62"/>
<circle cx="70.3" cy="386.7" r="2.0" fill="#a6a8c0" fill-opacity="0.6"/>
<circle cx="70.3" cy="386.7" r="1.15" fill="#626588" fill-opacity="0.62"/>
<circle cx="72.5" cy="376.7" r="2.0" fill="#a6a8c0" fill-opacity="0.6"/>
<circle cx="72.5" cy="376.7" r="1.15" fill="#626588" fill-opacity="0.66"/>
<circle cx="68" cy="399" r="2.0" fill="#a6a8c0" fill-opacity="0.6"/>
<circle cx="68" cy="399" r="1.15" fill="#626588" fill-opacity="0.65"/>
<circle cx="72.5" cy="403.5" r="2.0" fill="#a6a8c0" fill-opacity="0.6"/>
<circle cx="72.5" cy="403.5" r="1.15" fill="#626588" fill-opacity="0.7"/>
<circle cx="82.5" cy="395.7" r="2.0" fill="#a6a8c0" fill-opacity="0.6"/>
<circle cx="82.5" cy="395.7" r="1.15" fill="#626588" fill-opacity="0.62"/>
<circle cx="83.7" cy="400.1" r="2.0" fill="#a6a8c0" fill-opacity="0.6"/>
<circle cx="83.7" cy="400.1" r="1.15" fill="#626588" fill-opacity="0.6"/>
<circle cx="82.5" cy="403.5" r="2.0" fill="#a6a8c0" fill-opacity="0.6"/>
<circle cx="82.5" cy="403.5" r="1.15" fill="#626588" fill-opacity="0.65"/>
<circle cx="77" cy="411.3" r="2.0" fill="#a6a8c0" fill-opacity="0.6"/>
<circle cx="77" cy="411.3" r="1.15" fill="#626588" fill-opacity="0.63"/>
<circle cx="79.2" cy="412.4" r="2.0" fill="#a6a8c0" fill-opacity="0.6"/>
<circle cx="79.2" cy="412.4" r="1.15" fill="#626588" fill-opacity="0.71"/>
<circle cx="93.7" cy="380" r="2.0" fill="#a6a8c0" fill-opacity="0.6"/>
<circle cx="93.7" cy="380" r="1.15" fill="#626588" fill-opacity="0.61"/>
<circle cx="92.6" cy="397.9" r="2.0" fill="#a6a8c0" fill-opacity="0.6"/>
<circle cx="92.6" cy="397.9" r="1.15" fill="#626588" fill-opacity="0.86"/>
<circle cx="99.3" cy="390.1" r="2.0" fill="#a6a8c0" fill-opacity="0.6"/>
<circle cx="99.3" cy="390.1" r="1.15" fill="#626588" fill-opacity="0.78"/>
<circle cx="102.6" cy="392.3" r="2.0" fill="#a6a8c0" fill-opacity="0.6"/>
<circle cx="102.6" cy="392.3" r="1.15" fill="#626588" fill-opacity="0.64"/>
<circle cx="107.1" cy="396.8" r="2.0" fill="#a6a8c0" fill-opacity="0.6"/>
<circle cx="107.1" cy="396.8" r="1.15" fill="#626588" fill-opacity="0.68"/>
<circle cx="102.6" cy="399" r="2.0" fill="#a6a8c0" fill-opacity="0.6"/>
<circle cx="102.6" cy="399" r="1.15" fill="#626588" fill-opacity="0.7"/>
<circle cx="100.4" cy="373.3" r="2.0" fill="#a6a8c0" fill-opacity="0.6"/>
<circle cx="100.4" cy="373.3" r="1.15" fill="#626588" fill-opacity="0.71"/>
<circle cx="112.6" cy="378.9" r="2.0" fill="#a6a8c0" fill-opacity="0.6"/>
<circle cx="112.6" cy="378.9" r="1.15" fill="#626588" fill-opacity="0.64"/>
<circle cx="124.9" cy="374.5" r="2.0" fill="#a6a8c0" fill-opacity="0.6"/>
<circle cx="124.9" cy="374.5" r="1.15" fill="#626588" fill-opacity="0.85"/>
<circle cx="131.6" cy="381.2" r="2.0" fill="#a6a8c0" fill-opacity="0.6"/>
<circle cx="131.6" cy="381.2" r="1.15" fill="#626588" fill-opacity="0.9"/>
<circle cx="132.7" cy="386.7" r="2.0" fill="#a6a8c0" fill-opacity="0.6"/>
<circle cx="132.7" cy="386.7" r="1.15" fill="#626588" fill-opacity="0.74"/>
<circle cx="135" cy="391.2" r="2.0" fill="#a6a8c0" fill-opacity="0.6"/>
<circle cx="135" cy="391.2" r="1.15" fill="#626588" fill-opacity="0.75"/>
<circle cx="138.3" cy="394.5" r="2.0" fill="#a6a8c0" fill-opacity="0.6"/>
<circle cx="138.3" cy="394.5" r="1.15" fill="#626588" fill-opacity="0.63"/>
<circle cx="140.5" cy="385.6" r="2.0" fill="#a6a8c0" fill-opacity="0.6"/>
<circle cx="140.5" cy="385.6" r="1.15" fill="#626588" fill-opacity="0.63"/>
<circle cx="131.6" cy="403.5" r="2.0" fill="#a6a8c0" fill-opacity="0.6"/>
<circle cx="131.6" cy="403.5" r="1.15" fill="#626588" fill-opacity="0.7"/>
<circle cx="126" cy="404.6" r="2.0" fill="#a6a8c0" fill-opacity="0.6"/>
<circle cx="126" cy="404.6" r="1.15" fill="#626588" fill-opacity="0.68"/>
<circle cx="120.5" cy="411.3" r="2.0" fill="#a6a8c0" fill-opacity="0.6"/>
<circle cx="120.5" cy="411.3" r="1.15" fill="#626588" fill-opacity="0.85"/>
<circle cx="124.9" cy="412.4" r="2.0" fill="#a6a8c0" fill-opacity="0.6"/>
<circle cx="124.9" cy="412.4" r="1.15" fill="#626588" fill-opacity="0.65"/>
<circle cx="100.4" cy="418" r="2.0" fill="#a6a8c0" fill-opacity="0.6"/>
<circle cx="100.4" cy="418" r="1.15" fill="#626588" fill-opacity="0.61"/>
<path d="M92.7 324.6 L95.9 327.8" stroke="#fff" stroke-width="1.3" fill="none"/><path d="M97.1 329 l-3.4 -0.7 l2.7 -2.7 Z" fill="#fff"/>
<path d="M84.9 338 L88.1 341.2" stroke="#fff" stroke-width="1.3" fill="none"/><path d="M89.3 342.4 l-3.4 -0.7 l2.7 -2.7 Z" fill="#fff"/>
<path d="M54.8 358.1 L58 361.3" stroke="#fff" stroke-width="1.3" fill="none"/><path d="M59.2 362.5 l-3.4 -0.7 l2.7 -2.7 Z" fill="#fff"/>
<path d="M105 359.2 L108.2 362.4" stroke="#fff" stroke-width="1.3" fill="none"/><path d="M109.4 363.6 l-3.4 -0.7 l2.7 -2.7 Z" fill="#fff"/>
<path d="M113.9 364.8 L117.1 368" stroke="#fff" stroke-width="1.3" fill="none"/><path d="M118.3 369.2 l-3.4 -0.7 l2.7 -2.7 Z" fill="#fff"/>
<path d="M70.4 372.4 L73.6 375.6" stroke="#fff" stroke-width="1.3" fill="none"/><path d="M74.8 376.8 l-3.4 -0.7 l2.7 -2.7 Z" fill="#fff"/>
<path d="M62.6 390.2 L65.8 393.4" stroke="#fff" stroke-width="1.3" fill="none"/><path d="M67 394.6 l-3.4 -0.7 l2.7 -2.7 Z" fill="#fff"/>
<path d="M89.4 382.4 L92.6 385.6" stroke="#fff" stroke-width="1.3" fill="none"/><path d="M93.8 386.8 l-3.4 -0.7 l2.7 -2.7 Z" fill="#fff"/>
<path d="M123.9 373.5 L127.1 376.7" stroke="#fff" stroke-width="1.3" fill="none"/><path d="M128.3 377.9 l-3.4 -0.7 l2.7 -2.7 Z" fill="#fff"/>
<path d="M123.9 395.8 L127.1 399" stroke="#fff" stroke-width="1.3" fill="none"/><path d="M128.3 400.2 l-3.4 -0.7 l2.7 -2.7 Z" fill="#fff"/>
</g></g>
<rect x="146.7" y="320.3" width="114.5" height="99.7" fill="#b9bac0"/>
<g clip-path="url(#clip146)"><g filter="url(#sblur)">
<circle cx="253.78" cy="372.85" r="1.6" fill="none" stroke="#a0a2b8" stroke-width="0.8" stroke-opacity="0.25"/>
<circle cx="164.9" cy="374.28" r="1.6" fill="none" stroke="#a0a2b8" stroke-width="0.8" stroke-opacity="0.25"/>
<circle cx="151.69" cy="372.84" r="1.6" fill="none" stroke="#a0a2b8" stroke-width="0.8" stroke-opacity="0.25"/>
<circle cx="256.82" cy="404.92" r="1.6" fill="none" stroke="#a0a2b8" stroke-width="0.8" stroke-opacity="0.25"/>
<circle cx="225.63" cy="347.29" r="1.6" fill="none" stroke="#a0a2b8" stroke-width="0.8" stroke-opacity="0.25"/>
<circle cx="189.22" cy="338.29" r="1.6" fill="none" stroke="#a0a2b8" stroke-width="0.8" stroke-opacity="0.25"/>
<circle cx="234" cy="373.27" r="1.6" fill="none" stroke="#a0a2b8" stroke-width="0.8" stroke-opacity="0.25"/>
<circle cx="234.79" cy="353.85" r="1.6" fill="none" stroke="#a0a2b8" stroke-width="0.8" stroke-opacity="0.25"/>
<circle cx="173.35" cy="399.96" r="1.6" fill="none" stroke="#a0a2b8" stroke-width="0.8" stroke-opacity="0.25"/>
<circle cx="257.53" cy="403.9" r="1.6" fill="none" stroke="#a0a2b8" stroke-width="0.8" stroke-opacity="0.25"/>
<circle cx="237.77" cy="400.61" r="1.6" fill="none" stroke="#a0a2b8" stroke-width="0.8" stroke-opacity="0.25"/>
<circle cx="230.46" cy="344" r="1.6" fill="none" stroke="#a0a2b8" stroke-width="0.8" stroke-opacity="0.25"/>
<circle cx="205.9" cy="356.33" r="1.6" fill="none" stroke="#a0a2b8" stroke-width="0.8" stroke-opacity="0.25"/>
<circle cx="151.9" cy="324.97" r="1.6" fill="none" stroke="#a0a2b8" stroke-width="0.8" stroke-opacity="0.25"/>
<circle cx="179.58" cy="347.1" r="1.6" fill="none" stroke="#a0a2b8" stroke-width="0.8" stroke-opacity="0.25"/>
<circle cx="225.22" cy="413.84" r="1.6" fill="none" stroke="#a0a2b8" stroke-width="0.8" stroke-opacity="0.25"/>
<circle cx="198.12" cy="411.97" r="1.6" fill="none" stroke="#a0a2b8" stroke-width="0.8" stroke-opacity="0.25"/>
<circle cx="257.88" cy="413.69" r="1.6" fill="none" stroke="#a0a2b8" stroke-width="0.8" stroke-opacity="0.25"/>
<circle cx="188.99" cy="343.4" r="1.6" fill="none" stroke="#a0a2b8" stroke-width="0.8" stroke-opacity="0.25"/>
<circle cx="173.77" cy="341.12" r="1.6" fill="none" stroke="#a0a2b8" stroke-width="0.8" stroke-opacity="0.25"/>
<circle cx="171.28" cy="382.02" r="1.6" fill="none" stroke="#a0a2b8" stroke-width="0.8" stroke-opacity="0.25"/>
<circle cx="248.18" cy="402.73" r="1.6" fill="none" stroke="#a0a2b8" stroke-width="0.8" stroke-opacity="0.25"/>
<circle cx="201.68" cy="384.79" r="1.6" fill="none" stroke="#a0a2b8" stroke-width="0.8" stroke-opacity="0.25"/>
<circle cx="237.06" cy="330.41" r="1.6" fill="none" stroke="#a0a2b8" stroke-width="0.8" stroke-opacity="0.25"/>
<circle cx="221.69" cy="409.37" r="1.6" fill="none" stroke="#a0a2b8" stroke-width="0.8" stroke-opacity="0.25"/>
<circle cx="235.14" cy="394.09" r="1.6" fill="none" stroke="#a0a2b8" stroke-width="0.8" stroke-opacity="0.25"/>
<circle cx="201.52" cy="339.38" r="1.6" fill="none" stroke="#a0a2b8" stroke-width="0.8" stroke-opacity="0.25"/>
<circle cx="235.9" cy="354.12" r="1.6" fill="none" stroke="#a0a2b8" stroke-width="0.8" stroke-opacity="0.25"/>
<circle cx="237.19" cy="415.29" r="1.6" fill="none" stroke="#a0a2b8" stroke-width="0.8" stroke-opacity="0.25"/>
<circle cx="192.44" cy="360.71" r="1.6" fill="none" stroke="#a0a2b8" stroke-width="0.8" stroke-opacity="0.25"/>
<circle cx="157.2" cy="322.7" r="2.0" fill="#a6a8c0" fill-opacity="0.6"/>
<circle cx="157.2" cy="322.7" r="1.15" fill="#626588" fill-opacity="0.88"/>
<circle cx="161.6" cy="323.3" r="2.0" fill="#a6a8c0" fill-opacity="0.6"/>
<circle cx="161.6" cy="323.3" r="1.15" fill="#626588" fill-opacity="0.82"/>
<circle cx="161.6" cy="327.8" r="2.0" fill="#a6a8c0" fill-opacity="0.6"/>
<circle cx="161.6" cy="327.8" r="1.15" fill="#626588" fill-opacity="0.65"/>
<circle cx="158.3" cy="330" r="2.0" fill="#a6a8c0" fill-opacity="0.6"/>
<circle cx="158.3" cy="330" r="1.15" fill="#626588" fill-opacity="0.64"/>
<circle cx="154.9" cy="335.6" r="2.0" fill="#a6a8c0" fill-opacity="0.6"/>
<circle cx="154.9" cy="335.6" r="1.15" fill="#626588" fill-opacity="0.65"/>
<circle cx="163.8" cy="330" r="2.0" fill="#a6a8c0" fill-opacity="0.6"/>
<circle cx="163.8" cy="330" r="1.15" fill="#626588" fill-opacity="0.87"/>
<circle cx="160.5" cy="340.1" r="2.0" fill="#a6a8c0" fill-opacity="0.6"/>
<circle cx="160.5" cy="340.1" r="1.15" fill="#626588" fill-opacity="0.84"/>
<circle cx="163.8" cy="343.4" r="2.0" fill="#a6a8c0" fill-opacity="0.6"/>
<circle cx="163.8" cy="343.4" r="1.15" fill="#626588" fill-opacity="0.64"/>
<circle cx="169.4" cy="341.2" r="2.0" fill="#a6a8c0" fill-opacity="0.6"/>
<circle cx="169.4" cy="341.2" r="1.15" fill="#626588" fill-opacity="0.85"/>
<circle cx="168.3" cy="347.9" r="2.0" fill="#a6a8c0" fill-opacity="0.6"/>
<circle cx="168.3" cy="347.9" r="1.15" fill="#626588" fill-opacity="0.89"/>
<circle cx="166.1" cy="349" r="2.0" fill="#a6a8c0" fill-opacity="0.6"/>
<circle cx="166.1" cy="349" r="1.15" fill="#626588" fill-opacity="0.8"/>
<circle cx="176.1" cy="326.7" r="2.0" fill="#a6a8c0" fill-opacity="0.6"/>
<circle cx="176.1" cy="326.7" r="1.15" fill="#626588" fill-opacity="0.71"/>
<circle cx="182.8" cy="325.6" r="2.0" fill="#a6a8c0" fill-opacity="0.6"/>
<circle cx="182.8" cy="325.6" r="1.15" fill="#626588" fill-opacity="0.76"/>
<circle cx="186.2" cy="328.9" r="2.0" fill="#a6a8c0" fill-opacity="0.6"/>
<circle cx="186.2" cy="328.9" r="1.15" fill="#626588" fill-opacity="0.64"/>
<circle cx="182.8" cy="330" r="2.0" fill="#a6a8c0" fill-opacity="0.6"/>
<circle cx="182.8" cy="330" r="1.15" fill="#626588" fill-opacity="0.6"/>
<circle cx="187.3" cy="322.2" r="2.0" fill="#a6a8c0" fill-opacity="0.6"/>
<circle cx="187.3" cy="322.2" r="1.15" fill="#626588" fill-opacity="0.89"/>
<circle cx="200.7" cy="323.3" r="2.0" fill="#a6a8c0" fill-opacity="0.6"/>
<circle cx="200.7" cy="323.3" r="1.15" fill="#626588" fill-opacity="0.79"/>
<circle cx="187.3" cy="350.1" r="2.0" fill="#a6a8c0" fill-opacity="0.6"/>
<circle cx="187.3" cy="350.1" r="1.15" fill="#626588" fill-opacity="0.76"/>
<circle cx="199.5" cy="351.2" r="2.0" fill="#a6a8c0" fill-opacity="0.6"/>
<circle cx="199.5" cy="351.2" r="1.15" fill="#626588" fill-opacity="0.88"/>
<circle cx="201.8" cy="354.6" r="2.0" fill="#a6a8c0" fill-opacity="0.6"/>
<circle cx="201.8" cy="354.6" r="1.15" fill="#626588" fill-opacity="0.73"/>
<circle cx="196.2" cy="355.7" r="2.0" fill="#a6a8c0" fill-opacity="0.6"/>
<circle cx="196.2" cy="355.7" r="1.15" fill="#626588" fill-opacity="0.86"/>
<circle cx="205.1" cy="356.8" r="2.0" fill="#a6a8c0" fill-opacity="0.6"/>
<circle cx="205.1" cy="356.8" r="1.15" fill="#626588" fill-opacity="0.85"/>
<circle cx="200.7" cy="359" r="2.0" fill="#a6a8c0" fill-opacity="0.6"/>
<circle cx="200.7" cy="359" r="1.15" fill="#626588" fill-opacity="0.66"/>
<circle cx="197.3" cy="360.2" r="2.0" fill="#a6a8c0" fill-opacity="0.6"/>
<circle cx="197.3" cy="360.2" r="1.15" fill="#626588" fill-opacity="0.68"/>
<circle cx="221.8" cy="344.5" r="2.0" fill="#a6a8c0" fill-opacity="0.6"/>
<circle cx="221.8" cy="344.5" r="1.15" fill="#626588" fill-opacity="0.69"/>
<circle cx="212.9" cy="361.3" r="2.0" fill="#a6a8c0" fill-opacity="0.6"/>
<circle cx="212.9" cy="361.3" r="1.15" fill="#626588" fill-opacity="0.67"/>
<circle cx="214" cy="364.6" r="2.0" fill="#a6a8c0" fill-opacity="0.6"/>
<circle cx="214" cy="364.6" r="1.15" fill="#626588" fill-opacity="0.78"/>
<circle cx="225.2" cy="356.8" r="2.0" fill="#a6a8c0" fill-opacity="0.6"/>
<circle cx="225.2" cy="356.8" r="1.15" fill="#626588" fill-opacity="0.68"/>
<circle cx="219.6" cy="360.2" r="2.0" fill="#a6a8c0" fill-opacity="0.6"/>
<circle cx="219.6" cy="360.2" r="1.15" fill="#626588" fill-opacity="0.73"/>
<circle cx="224.1" cy="361.3" r="2.0" fill="#a6a8c0" fill-opacity="0.6"/>
<circle cx="224.1" cy="361.3" r="1.15" fill="#626588" fill-opacity="0.64"/>
<circle cx="236.3" cy="349" r="2.0" fill="#a6a8c0" fill-opacity="0.6"/>
<circle cx="236.3" cy="349" r="1.15" fill="#626588" fill-opacity="0.87"/>
<circle cx="237.5" cy="355.7" r="2.0" fill="#a6a8c0" fill-opacity="0.6"/>
<circle cx="237.5" cy="355.7" r="1.15" fill="#626588" fill-opacity="0.71"/>
<circle cx="239.7" cy="360.2" r="2.0" fill="#a6a8c0" fill-opacity="0.6"/>
<circle cx="239.7" cy="360.2" r="1.15" fill="#626588" fill-opacity="0.74"/>
<circle cx="237.5" cy="364.6" r="2.0" fill="#a6a8c0" fill-opacity="0.6"/>
<circle cx="237.5" cy="364.6" r="1.15" fill="#626588" fill-opacity="0.78"/>
<circle cx="244.1" cy="353.5" r="2.0" fill="#a6a8c0" fill-opacity="0.6"/>
<circle cx="244.1" cy="353.5" r="1.15" fill="#626588" fill-opacity="0.87"/>
<circle cx="246.4" cy="322.2" r="2.0" fill="#a6a8c0" fill-opacity="0.6"/>
<circle cx="246.4" cy="322.2" r="1.15" fill="#626588" fill-opacity="0.73"/>
<circle cx="249.7" cy="323.3" r="2.0" fill="#a6a8c0" fill-opacity="0.6"/>
<circle cx="249.7" cy="323.3" r="1.15" fill="#626588" fill-opacity="0.88"/>
<circle cx="246.4" cy="326.7" r="2.0" fill="#a6a8c0" fill-opacity="0.6"/>
<circle cx="246.4" cy="326.7" r="1.15" fill="#626588" fill-opacity="0.75"/>
<circle cx="250.8" cy="326.7" r="2.0" fill="#a6a8c0" fill-opacity="0.6"/>
<circle cx="250.8" cy="326.7" r="1.15" fill="#626588" fill-opacity="0.76"/>
<circle cx="246.4" cy="332.3" r="2.0" fill="#a6a8c0" fill-opacity="0.6"/>
<circle cx="246.4" cy="332.3" r="1.15" fill="#626588" fill-opacity="0.76"/>
<circle cx="153.8" cy="364.6" r="2.0" fill="#a6a8c0" fill-opacity="0.6"/>
<circle cx="153.8" cy="364.6" r="1.15" fill="#626588" fill-opacity="0.61"/>
<circle cx="156" cy="366.8" r="2.0" fill="#a6a8c0" fill-opacity="0.6"/>
<circle cx="156" cy="366.8" r="1.15" fill="#626588" fill-opacity="0.73"/>
<circle cx="151.6" cy="366.8" r="2.0" fill="#a6a8c0" fill-opacity="0.6"/>
<circle cx="151.6" cy="366.8" r="1.15" fill="#626588" fill-opacity="0.65"/>
<circle cx="172.8" cy="366.8" r="2.0" fill="#a6a8c0" fill-opacity="0.6"/>
<circle cx="172.8" cy="366.8" r="1.15" fill="#626588" fill-opacity="0.6"/>
<circle cx="255.3" cy="360.2" r="2.0" fill="#a6a8c0" fill-opacity="0.6"/>
<circle cx="255.3" cy="360.2" r="1.15" fill="#626588" fill-opacity="0.84"/>
<circle cx="172.8" cy="374.5" r="2.0" fill="#a6a8c0" fill-opacity="0.6"/>
<circle cx="172.8" cy="374.5" r="1.15" fill="#626588" fill-opacity="0.65"/>
<circle cx="183.9" cy="372.2" r="2.0" fill="#a6a8c0" fill-opacity="0.6"/>
<circle cx="183.9" cy="372.2" r="1.15" fill="#626588" fill-opacity="0.74"/>
<circle cx="187.3" cy="371.1" r="2.0" fill="#a6a8c0" fill-opacity="0.6"/>
<circle cx="187.3" cy="371.1" r="1.15" fill="#626588" fill-opacity="0.82"/>
<circle cx="181.7" cy="376.7" r="2.0" fill="#a6a8c0" fill-opacity="0.6"/>
<circle cx="181.7" cy="376.7" r="1.15" fill="#626588" fill-opacity="0.77"/>
<circle cx="196.2" cy="371.1" r="2.0" fill="#a6a8c0" fill-opacity="0.6"/>
<circle cx="196.2" cy="371.1" r="1.15" fill="#626588" fill-opacity="0.7"/>
<circle cx="199.5" cy="373.3" r="2.0" fill="#a6a8c0" fill-opacity="0.6"/>
<circle cx="199.5" cy="373.3" r="1.15" fill="#626588" fill-opacity="0.76"/>
<circle cx="198.4" cy="377.8" r="2.0" fill="#a6a8c0" fill-opacity="0.6"/>
<circle cx="198.4" cy="377.8" r="1.15" fill="#626588" fill-opacity="0.77"/>
<circle cx="175" cy="383.4" r="2.0" fill="#a6a8c0" fill-opacity="0.6"/>
<circle cx="175" cy="383.4" r="1.15" fill="#626588" fill-opacity="0.84"/>
<circle cx="172.8" cy="387.8" r="2.0" fill="#a6a8c0" fill-opacity="0.6"/>
<circle cx="172.8" cy="387.8" r="1.15" fill="#626588" fill-opacity="0.63"/>
<circle cx="166.1" cy="395.7" r="2.0" fill="#a6a8c0" fill-opacity="0.6"/>
<circle cx="166.1" cy="395.7" r="1.15" fill="#626588" fill-opacity="0.77"/>
<circle cx="165" cy="399" r="2.0" fill="#a6a8c0" fill-opacity="0.6"/>
<circle cx="165" cy="399" r="1.15" fill="#626588" fill-opacity="0.67"/>
<circle cx="191.7" cy="407.9" r="2.0" fill="#a6a8c0" fill-opacity="0.6"/>
<circle cx="191.7" cy="407.9" r="1.15" fill="#626588" fill-opacity="0.68"/>
<circle cx="202.9" cy="401.2" r="2.0" fill="#a6a8c0" fill-opacity="0.6"/>
<circle cx="202.9" cy="401.2" r="1.15" fill="#626588" fill-opacity="0.83"/>
<circle cx="206.2" cy="403.5" r="2.0" fill="#a6a8c0" fill-opacity="0.6"/>
<circle cx="206.2" cy="403.5" r="1.15" fill="#626588" fill-opacity="0.75"/>
<circle cx="209.6" cy="411.3" r="2.0" fill="#a6a8c0" fill-opacity="0.6"/>
<circle cx="209.6" cy="411.3" r="1.15" fill="#626588" fill-opacity="0.77"/>
<circle cx="210.7" cy="414.6" r="2.0" fill="#a6a8c0" fill-opacity="0.6"/>
<circle cx="210.7" cy="414.6" r="1.15" fill="#626588" fill-opacity="0.83"/>
<circle cx="223" cy="386.7" r="2.0" fill="#a6a8c0" fill-opacity="0.6"/>
<circle cx="223" cy="386.7" r="1.15" fill="#626588" fill-opacity="0.87"/>
<circle cx="226.3" cy="385.6" r="2.0" fill="#a6a8c0" fill-opacity="0.6"/>
<circle cx="226.3" cy="385.6" r="1.15" fill="#626588" fill-opacity="0.73"/>
<circle cx="227.4" cy="390.1" r="2.0" fill="#a6a8c0" fill-opacity="0.6"/>
<circle cx="227.4" cy="390.1" r="1.15" fill="#626588" fill-opacity="0.78"/>
<circle cx="225.2" cy="392.3" r="2.0" fill="#a6a8c0" fill-opacity="0.6"/>
<circle cx="225.2" cy="392.3" r="1.15" fill="#626588" fill-opacity="0.75"/>
<circle cx="230.8" cy="387.8" r="2.0" fill="#a6a8c0" fill-opacity="0.6"/>
<circle cx="230.8" cy="387.8" r="1.15" fill="#626588" fill-opacity="0.75"/>
<circle cx="235.2" cy="391.2" r="2.0" fill="#a6a8c0" fill-opacity="0.6"/>
<circle cx="235.2" cy="391.2" r="1.15" fill="#626588" fill-opacity="0.81"/>
<circle cx="237.5" cy="378.9" r="2.0" fill="#a6a8c0" fill-opacity="0.6"/>
<circle cx="237.5" cy="378.9" r="1.15" fill="#626588" fill-opacity="0.74"/>
<circle cx="237.5" cy="372.2" r="2.0" fill="#a6a8c0" fill-opacity="0.6"/>
<circle cx="237.5" cy="372.2" r="1.15" fill="#626588" fill-opacity="0.76"/>
<circle cx="244.1" cy="374.5" r="2.0" fill="#a6a8c0" fill-opacity="0.6"/>
<circle cx="244.1" cy="374.5" r="1.15" fill="#626588" fill-opacity="0.74"/>
<circle cx="253.1" cy="373.3" r="2.0" fill="#a6a8c0" fill-opacity="0.6"/>
<circle cx="253.1" cy="373.3" r="1.15" fill="#626588" fill-opacity="0.88"/>
<circle cx="255.3" cy="380" r="2.0" fill="#a6a8c0" fill-opacity="0.6"/>
<circle cx="255.3" cy="380" r="1.15" fill="#626588" fill-opacity="0.81"/>
<circle cx="257.5" cy="383.4" r="2.0" fill="#a6a8c0" fill-opacity="0.6"/>
<circle cx="257.5" cy="383.4" r="1.15" fill="#626588" fill-opacity="0.86"/>
<circle cx="237.5" cy="401.2" r="2.0" fill="#a6a8c0" fill-opacity="0.6"/>
<circle cx="237.5" cy="401.2" r="1.15" fill="#626588" fill-opacity="0.88"/>
<circle cx="239.7" cy="404.6" r="2.0" fill="#a6a8c0" fill-opacity="0.6"/>
<circle cx="239.7" cy="404.6" r="1.15" fill="#626588" fill-opacity="0.68"/>
<circle cx="241.9" cy="409" r="2.0" fill="#a6a8c0" fill-opacity="0.6"/>
<circle cx="241.9" cy="409" r="1.15" fill="#626588" fill-opacity="0.77"/>
<circle cx="231.9" cy="409" r="2.0" fill="#a6a8c0" fill-opacity="0.6"/>
<circle cx="231.9" cy="409" r="1.15" fill="#626588" fill-opacity="0.88"/>
<circle cx="248.6" cy="403.5" r="2.0" fill="#a6a8c0" fill-opacity="0.6"/>
<circle cx="248.6" cy="403.5" r="1.15" fill="#626588" fill-opacity="0.85"/>
<circle cx="258.6" cy="405.7" r="2.0" fill="#a6a8c0" fill-opacity="0.6"/>
<circle cx="258.6" cy="405.7" r="1.15" fill="#626588" fill-opacity="0.64"/>
<circle cx="166.1" cy="411.3" r="2.0" fill="#a6a8c0" fill-opacity="0.6"/>
<circle cx="166.1" cy="411.3" r="1.15" fill="#626588" fill-opacity="0.64"/>
<circle cx="162.7" cy="414.6" r="2.0" fill="#a6a8c0" fill-opacity="0.6"/>
<circle cx="162.7" cy="414.6" r="1.15" fill="#626588" fill-opacity="0.73"/>
<circle cx="167.2" cy="415.7" r="2.0" fill="#a6a8c0" fill-opacity="0.6"/>
<circle cx="167.2" cy="415.7" r="1.15" fill="#626588" fill-opacity="0.62"/>
<circle cx="170.5" cy="415.7" r="2.0" fill="#a6a8c0" fill-opacity="0.6"/>
<circle cx="170.5" cy="415.7" r="1.15" fill="#626588" fill-opacity="0.67"/>
<circle cx="148.2" cy="414.6" r="2.0" fill="#a6a8c0" fill-opacity="0.6"/>
<circle cx="148.2" cy="414.6" r="1.15" fill="#626588" fill-opacity="0.62"/>
<circle cx="255.3" cy="416.8" r="2.0" fill="#a6a8c0" fill-opacity="0.6"/>
<circle cx="255.3" cy="416.8" r="1.15" fill="#626588" fill-opacity="0.8"/>
<path d="M165.1 333.5 L168.3 336.7" stroke="#fff" stroke-width="1.3" fill="none"/><path d="M169.5 337.9 l-3.4 -0.7 l2.7 -2.7 Z" fill="#fff"/>
<path d="M246.5 355.2 L249.7 358.4" stroke="#fff" stroke-width="1.3" fill="none"/><path d="M250.9 359.6 l-3.4 -0.7 l2.7 -2.7 Z" fill="#fff"/>
</g></g>
<text transform="translate(24,370.1) rotate(-90) scale(0.9330,1)" font-size="8.4" text-anchor="middle" fill="#2a2a2a" stroke="#2a2a2a" stroke-width="0.000">Blood smear</text>
<line x1="296.4" y1="312.6" x2="296.4" y2="403.9" stroke="#000" stroke-width="1.2"/>
<line x1="293.4" y1="315.3" x2="296.4" y2="315.3" stroke="#000" stroke-width="1.2"/>
<text x="290.6" y="318.4" font-size="8.4" text-anchor="end" font-weight="normal" fill="#2a2a2a" >20</text>
<line x1="293.4" y1="337.45" x2="296.4" y2="337.45" stroke="#000" stroke-width="1.2"/>
<text x="290.6" y="340.55" font-size="8.4" text-anchor="end" font-weight="normal" fill="#2a2a2a" >15</text>
<line x1="293.4" y1="359.6" x2="296.4" y2="359.6" stroke="#000" stroke-width="1.2"/>
<text x="290.6" y="362.7" font-size="8.4" text-anchor="end" font-weight="normal" fill="#2a2a2a" >10</text>
<line x1="293.4" y1="381.75" x2="296.4" y2="381.75" stroke="#000" stroke-width="1.2"/>
<text x="290.6" y="384.85" font-size="8.4" text-anchor="end" font-weight="normal" fill="#2a2a2a" >5</text>
<line x1="293.4" y1="403.9" x2="296.4" y2="403.9" stroke="#000" stroke-width="1.2"/>
<text x="290.6" y="407" font-size="8.4" text-anchor="end" font-weight="normal" fill="#2a2a2a" >0</text>
<line x1="295.7" y1="403.9" x2="396.9" y2="403.9" stroke="#000" stroke-width="1.2"/>
<line x1="321.9" y1="403.9" x2="321.9" y2="406.7" stroke="#000" stroke-width="1.2"/>
<line x1="371.5" y1="403.9" x2="371.5" y2="406.7" stroke="#000" stroke-width="1.2"/>
<rect x="304.4" y="333.6" width="35" height="70.3" fill="#2e4b80"/>
<line x1="321.9" y1="328.5" x2="321.9" y2="334.1" stroke="#000" stroke-width="1.2"/>
<line x1="313.6" y1="328.5" x2="330.2" y2="328.5" stroke="#000" stroke-width="1.2"/>
<rect x="353.7" y="368.1" width="35.5" height="35.8" fill="#a8062c"/>
<line x1="371.5" y1="360.5" x2="371.5" y2="368.6" stroke="#000" stroke-width="1.2"/>
<line x1="363.5" y1="360.5" x2="379.5" y2="360.5" stroke="#000" stroke-width="1.2"/>
<circle cx="369.8" cy="355.5" r="1.0" fill="#111"/>
<circle cx="373.4" cy="355.5" r="1.0" fill="#111"/>
<text x="321.9" y="417.3" font-size="8.4" text-anchor="middle" font-weight="normal" fill="#2a2a2a" >SCD</text>
<text x="321.9" y="426.8" font-size="8.4" text-anchor="middle" font-weight="normal" fill="#2a2a2a" >BMT</text>
<text x="371.5" y="417.3" font-size="8.4" text-anchor="middle" font-weight="normal" fill="#2a2a2a" >SCD/CD73<tspan font-size="5.6" dy="-3.3">-/-</tspan></text>
<text x="371.5" y="426.8" font-size="8.4" text-anchor="middle" font-weight="normal" fill="#2a2a2a" >BMT</text>
<text transform="translate(274.9,358) rotate(-90) scale(0.7978,1)" font-size="8.8" text-anchor="middle" fill="#2a2a2a" stroke="#2a2a2a" stroke-width="0.476">Sickled cells (%)</text>
<text x="7.6" y="454.6" font-size="12" font-weight="bold" fill="#000" stroke="#000" stroke-width="0.55">G</text>
<line x1="47.6" y1="463.2" x2="47.6" y2="560.7" stroke="#000" stroke-width="1.2"/>
<line x1="44.6" y1="465.5" x2="47.6" y2="465.5" stroke="#000" stroke-width="1.2"/>
<text x="42.8" y="468.6" font-size="7.9" text-anchor="end" font-weight="normal" fill="#2a2a2a" >1.0</text>
<line x1="44.6" y1="484.54" x2="47.6" y2="484.54" stroke="#000" stroke-width="1.2"/>
<text x="42.8" y="487.64" font-size="7.9" text-anchor="end" font-weight="normal" fill="#2a2a2a" >0.8</text>
<line x1="44.6" y1="503.58" x2="47.6" y2="503.58" stroke="#000" stroke-width="1.2"/>
<text x="42.8" y="506.68" font-size="7.9" text-anchor="end" font-weight="normal" fill="#2a2a2a" >0.6</text>
<line x1="44.6" y1="522.62" x2="47.6" y2="522.62" stroke="#000" stroke-width="1.2"/>
<text x="42.8" y="525.72" font-size="7.9" text-anchor="end" font-weight="normal" fill="#2a2a2a" >0.4</text>
<line x1="44.6" y1="541.66" x2="47.6" y2="541.66" stroke="#000" stroke-width="1.2"/>
<text x="42.8" y="544.76" font-size="7.9" text-anchor="end" font-weight="normal" fill="#2a2a2a" >0.2</text>
<line x1="44.6" y1="560.7" x2="47.6" y2="560.7" stroke="#000" stroke-width="1.2"/>
<text x="42.8" y="563.8" font-size="7.9" text-anchor="end" font-weight="normal" fill="#2a2a2a" >0.0</text>
<line x1="47" y1="560.8" x2="190.8" y2="560.8" stroke="#000" stroke-width="1.2"/>
<line x1="65.8" y1="560.8" x2="65.8" y2="563.6" stroke="#000" stroke-width="1.2"/>
<line x1="101.5" y1="560.8" x2="101.5" y2="563.6" stroke="#000" stroke-width="1.2"/>
<line x1="137.3" y1="560.8" x2="137.3" y2="563.6" stroke="#000" stroke-width="1.2"/>
<line x1="172.5" y1="560.8" x2="172.5" y2="563.6" stroke="#000" stroke-width="1.2"/>
<text x="65.8" y="574.3" font-size="8.3" text-anchor="middle" font-weight="normal" fill="#2a2a2a" >Day 0</text>
<text x="101.5" y="574.3" font-size="8.3" text-anchor="middle" font-weight="normal" fill="#2a2a2a" >Day 2</text>
<text x="137.3" y="574.3" font-size="8.3" text-anchor="middle" font-weight="normal" fill="#2a2a2a" >Day 5</text>
<text x="172.5" y="574.3" font-size="8.3" text-anchor="middle" font-weight="normal" fill="#2a2a2a" >Day 9</text>
<polyline points="65.8,465.5 101.5,495.8 137.3,528.1 172.5,542.5" stroke="#a3153a" stroke-width="1.6" fill="none"/>
<polyline points="65.8,465.5 101.5,519.4 137.3,552 172.5,558.4" stroke="#2c4a7c" stroke-width="1.6" fill="none"/>
<rect x="63.599999999999994" y="463.3" width="4.4" height="4.4" fill="#2c4a7c"/>
<rect x="99.3" y="517.1999999999999" width="4.4" height="4.4" fill="#2c4a7c"/>
<rect x="135.10000000000002" y="549.8" width="4.4" height="4.4" fill="#2c4a7c"/>
<rect x="170.3" y="556.1999999999999" width="4.4" height="4.4" fill="#2c4a7c"/>
<line x1="101.5" y1="491.4" x2="101.5" y2="499.2" stroke="#a3153a" stroke-width="1.1"/>
<line x1="99.5" y1="491.4" x2="103.5" y2="491.4" stroke="#a3153a" stroke-width="1.1"/>
<line x1="99.5" y1="499.2" x2="103.5" y2="499.2" stroke="#a3153a" stroke-width="1.1"/>
<line x1="137.3" y1="524.3" x2="137.3" y2="531.5" stroke="#a3153a" stroke-width="1.1"/>
<line x1="135.3" y1="524.3" x2="139.3" y2="524.3" stroke="#a3153a" stroke-width="1.1"/>
<line x1="135.3" y1="531.5" x2="139.3" y2="531.5" stroke="#a3153a" stroke-width="1.1"/>
<line x1="172.5" y1="536.1" x2="172.5" y2="547.7" stroke="#a3153a" stroke-width="1.1"/>
<line x1="170.5" y1="536.1" x2="174.5" y2="536.1" stroke="#a3153a" stroke-width="1.1"/>
<line x1="170.5" y1="547.7" x2="174.5" y2="547.7" stroke="#a3153a" stroke-width="1.1"/>
<path d="M101.5 493.2 L104.1 497.6 L98.9 497.6 Z" fill="#a3153a"/>
<path d="M137.3 525.5 L139.9 529.9 L134.70000000000002 529.9 Z" fill="#a3153a"/>
<path d="M172.5 539.9 L175.1 544.3 L169.9 544.3 Z" fill="#a3153a"/>
<rect x="63.6" y="463.3" width="4.4" height="4.4" fill="#8a2a4a"/>
<circle cx="101.5" cy="487.6" r="1.0" fill="#111"/>
<circle cx="137.3" cy="520.8" r="1.0" fill="#111"/>
<line x1="113.4" y1="466.1" x2="124.4" y2="466.1" stroke="#2c4a7c" stroke-width="1.8"/>
<rect x="116.7" y="463.9" width="4.4" height="4.4" fill="#2c4a7c"/>
<text x="126.9" y="469" font-size="8.0" text-anchor="start" font-weight="normal" fill="#2a2a2a" >SCD BMT</text>
<line x1="113.4" y1="479" x2="124.4" y2="479" stroke="#a3153a" stroke-width="1.8"/>
<path d="M118.9 476.4 L121.5 480.8 L116.3 480.8 Z" fill="#a3153a"/>
<text x="126.9" y="481.9" font-size="8.0" text-anchor="start" font-weight="normal" fill="#2a2a2a" >SCD/<tspan font-style="italic">CD73<tspan font-size="5.6" dy="-3.3">-/-</tspan></tspan><tspan dy="3.3"> BMT</tspan></text>
<text transform="translate(24.9,514.5) rotate(-90) scale(0.7259,1)" font-size="8.8" text-anchor="middle" fill="#2a2a2a" stroke="#2a2a2a" stroke-width="0.523">Biotinylated RBC (%)</text>
<text x="207" y="454.6" font-size="12" font-weight="bold" fill="#000" stroke="#000" stroke-width="0.55">H</text>
<line x1="241.4" y1="464.3" x2="241.4" y2="560.85" stroke="#000" stroke-width="1.2"/>
<line x1="238.4" y1="466.5" x2="241.4" y2="466.5" stroke="#000" stroke-width="1.2"/>
<text x="235.6" y="469.6" font-size="7.6" text-anchor="end" font-weight="normal" fill="#2a2a2a" >6</text>
<line x1="238.4" y1="497.95" x2="241.4" y2="497.95" stroke="#000" stroke-width="1.2"/>
<text x="235.6" y="501.05" font-size="7.6" text-anchor="end" font-weight="normal" fill="#2a2a2a" >4</text>
<line x1="238.4" y1="529.4" x2="241.4" y2="529.4" stroke="#000" stroke-width="1.2"/>
<text x="235.6" y="532.5" font-size="7.6" text-anchor="end" font-weight="normal" fill="#2a2a2a" >2</text>
<line x1="238.4" y1="560.85" x2="241.4" y2="560.85" stroke="#000" stroke-width="1.2"/>
<text x="235.6" y="563.95" font-size="7.6" text-anchor="end" font-weight="normal" fill="#2a2a2a" >0</text>
<line x1="241.3" y1="560.85" x2="348.1" y2="560.85" stroke="#000" stroke-width="1.2"/>
<line x1="259.7" y1="560.85" x2="259.7" y2="563.65" stroke="#000" stroke-width="1.2"/>
<line x1="294.6" y1="560.85" x2="294.6" y2="563.65" stroke="#000" stroke-width="1.2"/>
<line x1="330.2" y1="560.85" x2="330.2" y2="563.65" stroke="#000" stroke-width="1.2"/>
<rect x="247.7" y="515.1" width="23.9" height="45.6" fill="#66a83c"/>
<line x1="259.7" y1="509.3" x2="259.7" y2="515.6" stroke="#000" stroke-width="1.2"/>
<line x1="253.9" y1="509.3" x2="265.5" y2="509.3" stroke="#000" stroke-width="1.2"/>
<rect x="283" y="480.4" width="23.2" height="80.3" fill="#2e4b80"/>
<line x1="294.6" y1="473.1" x2="294.6" y2="480.9" stroke="#000" stroke-width="1.2"/>
<line x1="289.2" y1="473.1" x2="300" y2="473.1" stroke="#000" stroke-width="1.2"/>
<circle cx="294.6" cy="468.9" r="1.0" fill="#111"/>
<rect x="318.6" y="503.7" width="23.1" height="57" fill="#a8062c"/>
<line x1="330.2" y1="497.8" x2="330.2" y2="504.2" stroke="#000" stroke-width="1.2"/>
<line x1="324.4" y1="497.8" x2="336" y2="497.8" stroke="#000" stroke-width="1.2"/>
<circle cx="328.4" cy="493.7" r="1.0" fill="#111"/>
<circle cx="332" cy="493.7" r="1.0" fill="#111"/>
<text x="259.2" y="574.3" font-size="8.4" text-anchor="middle" font-weight="normal" fill="#2a2a2a" >WT</text>
<text x="294.7" y="574.3" font-size="8.4" text-anchor="middle" font-weight="normal" fill="#2a2a2a" >SCD</text>
<text x="294.7" y="584.1" font-size="8.4" text-anchor="middle" font-weight="normal" fill="#2a2a2a" >BMT</text>
<text x="330.2" y="574.3" font-size="8.4" text-anchor="middle" font-weight="normal" fill="#2a2a2a" >SCD/CD73<tspan font-size="5.6" dy="-3.3">-/-</tspan></text>
<text x="330.2" y="584.1" font-size="8.4" text-anchor="middle" font-weight="normal" fill="#2a2a2a" >BMT</text>
<text transform="translate(223.7,513.5) rotate(-90) scale(0.8574,1)" font-size="8.8" text-anchor="middle" fill="#2a2a2a" stroke="#2a2a2a" stroke-width="0.443">Plasma total bilirubin (mg dl<tspan font-size="5" dy="-3">-1</tspan><tspan dy="3">)</tspan></text>
<text x="365.2" y="454.6" font-size="12" font-weight="bold" fill="#000" stroke="#000" stroke-width="0.55">I</text>
<line x1="400.7" y1="464.3" x2="400.7" y2="560.8" stroke="#000" stroke-width="1.2"/>
<line x1="397.7" y1="466.6" x2="400.7" y2="466.6" stroke="#000" stroke-width="1.2"/>
<text x="394.5" y="469.7" font-size="8.1" text-anchor="end" font-weight="normal" fill="#2a2a2a" >80</text>
<line x1="397.7" y1="490.15" x2="400.7" y2="490.15" stroke="#000" stroke-width="1.2"/>
<text x="394.5" y="493.25" font-size="8.1" text-anchor="end" font-weight="normal" fill="#2a2a2a" >60</text>
<line x1="397.7" y1="513.7" x2="400.7" y2="513.7" stroke="#000" stroke-width="1.2"/>
<text x="394.5" y="516.8" font-size="8.1" text-anchor="end" font-weight="normal" fill="#2a2a2a" >40</text>
<line x1="397.7" y1="537.25" x2="400.7" y2="537.25" stroke="#000" stroke-width="1.2"/>
<text x="394.5" y="540.35" font-size="8.1" text-anchor="end" font-weight="normal" fill="#2a2a2a" >20</text>
<line x1="397.7" y1="560.8" x2="400.7" y2="560.8" stroke="#000" stroke-width="1.2"/>
<text x="394.5" y="563.9" font-size="8.1" text-anchor="end" font-weight="normal" fill="#2a2a2a" >0</text>
<line x1="400.1" y1="560.8" x2="506.8" y2="560.8" stroke="#000" stroke-width="1.2"/>
<line x1="418.7" y1="560.8" x2="418.7" y2="563.6" stroke="#000" stroke-width="1.2"/>
<line x1="453.8" y1="560.8" x2="453.8" y2="563.6" stroke="#000" stroke-width="1.2"/>
<line x1="489" y1="560.8" x2="489" y2="563.6" stroke="#000" stroke-width="1.2"/>
<rect x="407.2" y="553.6" width="22.9" height="7.2" fill="#66a83c"/>
<line x1="418.7" y1="551.6" x2="418.7" y2="554.1" stroke="#000" stroke-width="1.2"/>
<line x1="414.2" y1="551.6" x2="423.2" y2="551.6" stroke="#000" stroke-width="1.2"/>
<rect x="442.5" y="491.5" width="22.6" height="69.3" fill="#2e4b80"/>
<line x1="453.8" y1="483" x2="453.8" y2="492" stroke="#000" stroke-width="1.2"/>
<line x1="448.7" y1="483" x2="458.9" y2="483" stroke="#000" stroke-width="1.2"/>
<circle cx="453.8" cy="477.9" r="1.0" fill="#111"/>
<rect x="477.5" y="520.9" width="22.9" height="39.9" fill="#a8062c"/>
<line x1="489" y1="514.3" x2="489" y2="521.4" stroke="#000" stroke-width="1.2"/>
<line x1="484.1" y1="514.3" x2="493.9" y2="514.3" stroke="#000" stroke-width="1.2"/>
<circle cx="487.2" cy="509.4" r="1.0" fill="#111"/>
<circle cx="490.8" cy="509.4" r="1.0" fill="#111"/>
<text x="418.6" y="574.5" font-size="8.4" text-anchor="middle" font-weight="normal" fill="#2a2a2a" >WT</text>
<text x="453.9" y="574.5" font-size="8.4" text-anchor="middle" font-weight="normal" fill="#2a2a2a" >SCD</text>
<text x="453.9" y="584.3" font-size="8.4" text-anchor="middle" font-weight="normal" fill="#2a2a2a" >BMT</text>
<text x="489.2" y="574.5" font-size="8.4" text-anchor="middle" font-weight="normal" fill="#2a2a2a" >SCD/CD73<tspan font-size="5.6" dy="-3.3">-/-</tspan></text>
<text x="489.2" y="584.3" font-size="8.4" text-anchor="middle" font-weight="normal" fill="#2a2a2a" >BMT</text>
<text transform="translate(378.9,513.6) rotate(-90) scale(0.7378,1)" font-size="9.6" text-anchor="middle" fill="#2a2a2a" stroke="#2a2a2a" stroke-width="0.515">Plasma hemoglobin (mg dl<tspan font-size="5" dy="-3">-1</tspan><tspan dy="3">)</tspan></text>
</svg>
<svg class="ov" width="520" height="592" viewBox="0 0 520 592"><rect x="0.6" y="0.75" width="518.6" height="590.4" fill="none" stroke="#000" stroke-width="1.5"/></svg></div></body></html>
